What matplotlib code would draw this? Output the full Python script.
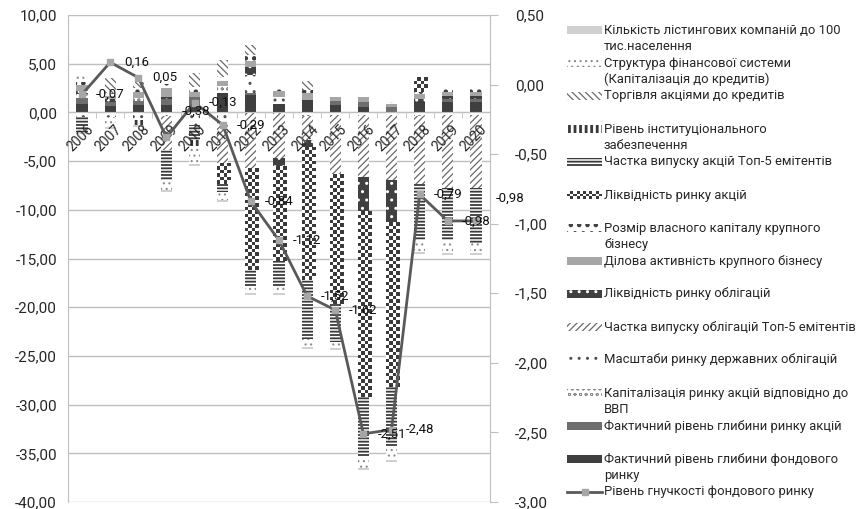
import numpy as np
import matplotlib
matplotlib.use("Agg")
import matplotlib.pyplot as plt
from matplotlib.patches import Rectangle
from matplotlib.lines import Line2D
from matplotlib.colors import ListedColormap
from matplotlib.transforms import ScaledTranslation

plt.rcParams['font.family'] = ['Roboto', 'DejaVu Sans']

years = [str(y) for y in range(2006, 2021)]

# Stacked components (bottom of the stack first)
depth_stock_market = [0.9, 0.7, 0.8, 0.8, 0.7, 2.0, 1.8, 0.9, 1.3, 0.8, 0.6, 0.0, 1.1, 1.1, 1.1]
depth_shares = [0.6, 0.4, 0.4, 0.6, 0.9, 0.0, 0.2, 0.0, 0.0, 0.4, 0.5, 0.6, 0.0, 0.3, 0.3]
cap_to_gdp = [0.4, 0.0, 0.3, 0.0, 0.0, 0.7, 0.0, 0.0, -0.4, -0.3, -0.3, -0.3, -0.4, -0.3, -0.3]
gov_bonds_scale = [-0.5, -0.5, -0.8, -0.4, -1.3, -1.0, 1.8, 0.7, 0.0, 0.0, 0.0, 0.0, 0.0, 0.0, 0.0]
top5_bonds = [0.0, 0.0, 0.0, -3.5, 0.0, -4.2, -5.8, -4.7, -2.4, -6.1, -6.3, -6.6, -6.9, -7.5, -7.5]
bond_liquidity = [0.3, 0.3, 0.0, 0.2, 0.0, 0.0, 0.9, -0.9, -0.8, 0.0, -3.6, -4.4, 0.3, 0.3, 0.3]
business_activity = [0.6, 0.3, 0.6, 0.9, 0.5, 0.5, 0.6, 0.6, 0.7, 0.4, 0.5, 0.3, 0.5, 0.4, 0.4]
equity_size = [0.3, 0.3, 0.4, 0.4, 0.5, 0.4, 0.6, 0.5, 0.3, 0.3, 0.3, 0.2, 0.3, 0.3, 0.3]
stock_liquidity = [0.0, 0.0, 0.0, 0.0, 0.0, -1.8, -10.2, -9.6, -13.3, -13.2, -19.0, -16.7, 1.3, 0.0, 0.0]
top5_shares = [-1.5, 0.0, 0.0, -3.0, -1.5, -1.2, -1.8, -2.7, -6.4, -4.0, -6.2, -6.4, -5.8, -5.3, -5.6]
institutional = [0.0, 0.0, -0.5, 0.0, -0.6, 0.0, 0.0, 0.0, 0.0, 0.0, 0.0, 0.0, 0.0, 0.0, 0.0]
trading_to_credit = [0.0, 1.5, 0.6, 0.0, 1.4, 1.8, 1.0, 0.0, 0.9, 0.0, 0.0, 0.0, 0.0, 0.0, 0.0]
fin_structure = [0.6, -1.0, 0.3, -1.1, -1.9, -0.8, -0.7, -0.6, -0.8, -0.6, -1.1, -1.3, -1.2, -1.3, -1.0]
listed_companies = [-0.2, -0.2, -0.2, -0.2, -0.2, -0.2, -0.2, -0.2, -0.2, -0.2, -0.2, -0.2, -0.2, -0.2, -0.2]

# Line on the secondary axis
flexibility = [-0.07, 0.16, 0.05, -0.38, -0.13, -0.29, -0.84, -1.12, -1.52, -1.62,
               -2.51, -2.48, -0.79, -0.98, -0.98]

CHECKER = "checker"

# (label, values, face colour, hatch, hatch colour, hatch width)
series = [
    ("Фактичний рівень глибини фондового\nринку", depth_stock_market, "#3f3f3f", None, "#3f3f3f", 1.0),
    ("Фактичний рівень глибини ринку акцій", depth_shares, "#6e6e6e", None, "#6e6e6e", 1.0),
    ("Капіталізація ринку акцій відповідно до\nВВП", cap_to_gdp, "white", "ooo", "#8a8a8a", 0.6),
    ("Масштаби ринку державних облігацій", gov_bonds_scale, "white", "..", "#505050", 1.0),
    ("Частка випуску облігацій Топ-5 емітентів", top5_bonds, "white", "/////", "#6a6a6a", 0.9),
    ("Ліквідність ринку облігацій", bond_liquidity, "#404040", "..", "white", 1.0),
    ("Ділова активність крупного бізнесу", business_activity, "#a6a6a6", None, "#a6a6a6", 1.0),
    ("Розмір власного капіталу крупного\nбізнесу", equity_size, "white", "..", "#3a3a3a", 2.0),
    ("Ліквідність ринку акцій", stock_liquidity, "white", CHECKER, "#3a3a3a", 1.0),
    ("Частка випуску акцій Топ-5 емітентів", top5_shares, "white", "-----", "#3a3a3a", 1.3),
    ("Рівень інституціонального\nзабезпечення", institutional, "white", "|||", "#3a3a3a", 2.0),
    ("Торгівля акціями до кредитів", trading_to_credit, "white", "\\\\\\\\\\", "#6a6a6a", 0.9),
    ("Структура фінансової системи\n(Капіталізація до кредитів)", fin_structure, "white", "...", "#8c8c8c", 0.8),
    ("Кількість лістингових компаній до 100\nтис.населення", listed_companies, "#d0d0d0", None, "#d0d0d0", 1.0),
]

W, H = 865, 509
fig = plt.figure(figsize=(W / 100, H / 100), dpi=100)
ax_box = [68 / W, 1 - 502 / H, (490 - 68) / W, (502 - 15) / H]
ax = fig.add_axes(ax_box)
ax2 = ax.twinx()

grey = "#bfbfbf"
text_col = "#262626"
checker_cmap = ListedColormap(["white", "#3a3a3a"])
cell_px = 3.5

XLIM = (-0.5, len(years) - 0.5)
YLIM = (-40, 10)
px_per_x = (490 - 68) / (XLIM[1] - XLIM[0])
px_per_y = (502 - 15) / (YLIM[1] - YLIM[0])


def checker(nr, nc):
    r, c = np.indices((max(nr, 1), max(nc, 1)))
    return (r + c) % 2


x = np.arange(len(years))
pos = np.zeros(len(x))
neg = np.zeros(len(x))
for label, vals, face, hatch, hcol, hlw in series:
    v = np.asarray(vals, float)
    bottom = np.where(v >= 0, pos, neg)
    hatch_arg = None if hatch == CHECKER else hatch
    with plt.rc_context({'hatch.linewidth': hlw}):
        bars = ax.bar(x, v, width=0.4, bottom=bottom, color=face, hatch=hatch_arg,
                      edgecolor=hcol, linewidth=0, zorder=2)
    for b in bars:
        if hatch_arg and hasattr(b, 'set_hatch_linewidth'):
            b.set_hatch_linewidth(hlw)
        if hatch == CHECKER and b.get_height() != 0:
            bx, by = b.get_x(), b.get_y()
            bw, bh = b.get_width(), b.get_height()
            y_lo, y_hi = min(by, by + bh), max(by, by + bh)
            nr = int(np.ceil(abs(bh) * px_per_y / cell_px))
            nc = int(np.ceil(bw * px_per_x / cell_px))
            ax.imshow(checker(nr, nc), cmap=checker_cmap, vmin=0, vmax=1,
                      extent=[bx, bx + nc * cell_px / px_per_x, y_hi - nr * cell_px / px_per_y, y_hi],
                      aspect='auto', interpolation='nearest', zorder=2.1, clip_path=b)
    pos += np.where(v > 0, v, 0)
    neg += np.where(v < 0, v, 0)

# Primary axis
ax.set_xlim(*XLIM)
ax.set_ylim(*YLIM)
yt = np.arange(-40, 11, 5)
ax.set_yticks(yt)
ax.set_yticklabels([f"{v:.2f}".replace('.', ',') for v in yt], fontsize=11, color=text_col)
ax.tick_params(axis='y', length=0, pad=8)
ax.yaxis.grid(True, color=grey, linewidth=1)
ax.set_axisbelow(True)
for s in ('top', 'right'):
    ax.spines[s].set_visible(False)
ax.spines['left'].set_color(grey)
ax.spines['bottom'].set_position(('data', 0))
ax.spines['bottom'].set_color(grey)
ax.spines['bottom'].set_zorder(3)

ax.set_xticks(x)
ax.set_xticks(np.arange(-0.5, len(years), 1), minor=True)
ax.tick_params(axis='x', which='major', length=0, pad=7)
ax.tick_params(axis='x', which='minor', length=4, color=grey, direction='out')
ax.set_xticklabels(years, rotation=45, ha='right', va='top', rotation_mode='anchor',
                   fontsize=10, color=text_col)
ax.xaxis.set_zorder(4)
shift = ScaledTranslation(4 / 100, 0, fig.dpi_scale_trans)
for lbl in ax.get_xticklabels():
    lbl.set_transform(lbl.get_transform() + shift)

# Secondary axis with the line
ax2.set_ylim(-3, 0.5)
yt2 = np.arange(-3, 0.51, 0.5)
ax2.set_yticks(yt2)
ax2.set_yticklabels([f"{v:.2f}".replace('.', ',') for v in yt2], fontsize=11, color=text_col)
ax2.tick_params(axis='y', length=6, color=grey, pad=12)
for s in ('top', 'left', 'bottom'):
    ax2.spines[s].set_visible(False)
ax2.spines['right'].set_color(grey)

line_col = "#595959"
ax2.plot(x, flexibility, color=line_col, linewidth=2, marker='s', markersize=4,
         markerfacecolor="#a6a6a6", markeredgecolor="#a6a6a6", zorder=5)

label_offsets = {3: (11, 19), 14: (14, 16)}
for i, v in enumerate(flexibility):
    dx, dy = label_offsets.get(i, (10, 0))
    ax2.annotate(f"{v:.2f}".replace('.', ','), (i, v), xytext=(dx, dy),
                 textcoords='offset points', ha='left', va='center',
                 fontsize=9.5, color="#111111", zorder=6)

# Legend drawn to the right of the plot
lx0, lw_, lh = 567, 35, 8
tx = 604
pitch = 33.0
legend_fs = 9.4
entries = list(reversed(series))
for k, (label, vals, face, hatch, hcol, hlw) in enumerate(entries):
    yc = 30 + pitch * k
    if hatch == CHECKER:
        sw = fig.add_axes([lx0 / W, 1 - (yc + lh / 2) / H, lw_ / W, lh / H])
        sw.imshow(checker(int(lh / cell_px) + 1, int(lw_ / cell_px) + 1), cmap=checker_cmap,
                  vmin=0, vmax=1, aspect='auto', interpolation='nearest')
        sw.axis('off')
    else:
        with plt.rc_context({'hatch.linewidth': hlw}):
            r = Rectangle((lx0 / W, 1 - (yc + lh / 2) / H), lw_ / W, lh / H,
                          transform=fig.transFigure, facecolor=face, hatch=hatch,
                          edgecolor=hcol, linewidth=0)
        if hatch and hasattr(r, 'set_hatch_linewidth'):
            r.set_hatch_linewidth(hlw)
        fig.add_artist(r)
    for j, part in enumerate(label.split('\n')):
        fig.text(tx / W, 1 - (yc + 16.7 * j) / H, part, ha='left', va='center',
                 fontsize=legend_fs, color=text_col)

yc = 30 + pitch * len(entries)
fig.add_artist(Line2D([lx0 / W, (lx0 + lw_) / W], [1 - yc / H, 1 - yc / H],
                      transform=fig.transFigure, color=line_col, linewidth=2))
fig.add_artist(Line2D([(lx0 + lw_ / 2) / W], [1 - yc / H], transform=fig.transFigure,
                      marker='s', markersize=4, markerfacecolor="#a6a6a6",
                      markeredgecolor="#a6a6a6", linestyle='none'))
fig.text(tx / W, 1 - yc / H, "Рівень гнучкості фондового ринку", ha='left', va='center',
         fontsize=legend_fs, color=text_col)

fig.savefig("out.png", dpi=100)
